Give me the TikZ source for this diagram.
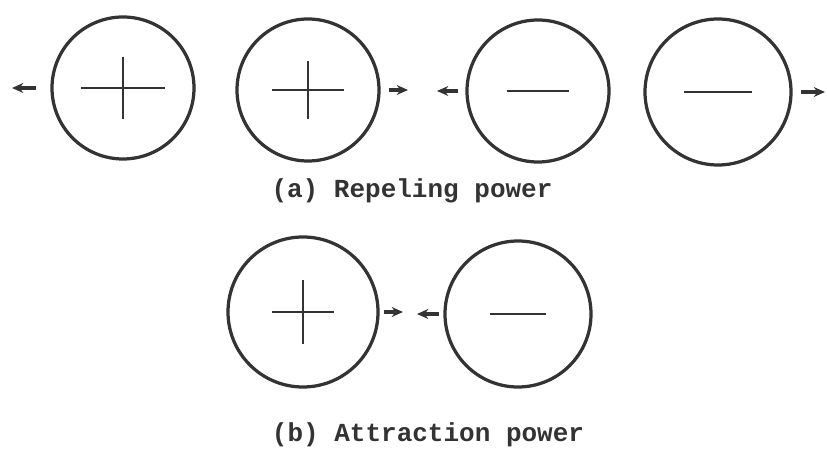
\documentclass[tikz,border=0pt]{standalone}
\usepackage{fontspec}
\setmonofont{Liberation Mono}
\usetikzlibrary{arrows.meta}
\begin{document}
\begin{tikzpicture}[font=\ttfamily\bfseries\fontsize{18.5}{22}\selectfont,
  ion/.style={circle, draw=black!80, line width=2.3pt, minimum size=3.55cm, inner sep=0pt},
  sign/.style={draw=black!80, line width=1.8pt},
  force/.style={draw=black!80, line width=2.4pt, -{Stealth[length=8pt,width=7pt]}}]
\useasboundingbox (0,0) rectangle (20.675,11.325);
% (a) repeling power
\node[ion] (p1) at (3.075,9.125) {};
\node[ion] (p2) at (7.70,9.075) {};
\node[ion] (n1) at (13.45,9.05) {};
\node[ion, minimum size=3.65cm] (n2) at (17.95,9.025) {};
% (b) attraction power
\node[ion, minimum size=3.75cm] (p3) at (7.575,3.525) {};
\node[ion, minimum size=3.65cm] (n3) at (12.95,3.475) {};
% signs
\foreach \c/\w/\h in {p1/1.05/0.78, p2/0.9/0.72, p3/0.78/0.8} {
  \draw[sign] ([xshift=-\w cm]\c.center) -- ([xshift=\w cm]\c.center);
  \draw[sign] ([yshift=-\h cm]\c.center) -- ([yshift=\h cm]\c.center);
}
\foreach \c/\w in {n1/0.78, n2/0.86, n3/0.7}
  \draw[sign] ([xshift=-\w cm]\c.center) -- ([xshift=\w cm]\c.center);
% forces
\coordinate (t1) at (0.3,9.125);
\coordinate (t2) at (10.2,9.075);
\coordinate (t3) at (10.925,9.05);
\coordinate (t4) at (20.625,9.025);
\coordinate (t5) at (10.075,3.525);
\coordinate (t6) at (10.425,3.475);
\draw[force, shorten <=0.35cm] (p1.west) -- (t1);
\draw[force, shorten <=0.2cm] (p2.east) -- (t2);
\draw[force, shorten <=0.18cm] (n1.west) -- (t3);
\draw[force, shorten <=0.2cm] (n2.east) -- (t4);
\draw[force, shorten <=0.12cm] (p3.east) -- (t5);
\draw[force, shorten <=0.1cm] (n3.west) -- (t6);
% captions
\node[anchor=base, text=black!80] (capa) at (10.3,6.375) {(a) Repeling power};
\node[anchor=base, text=black!80] (capb) at (10.7,0.275) {(b) Attraction power};
\end{tikzpicture}
\end{document}
